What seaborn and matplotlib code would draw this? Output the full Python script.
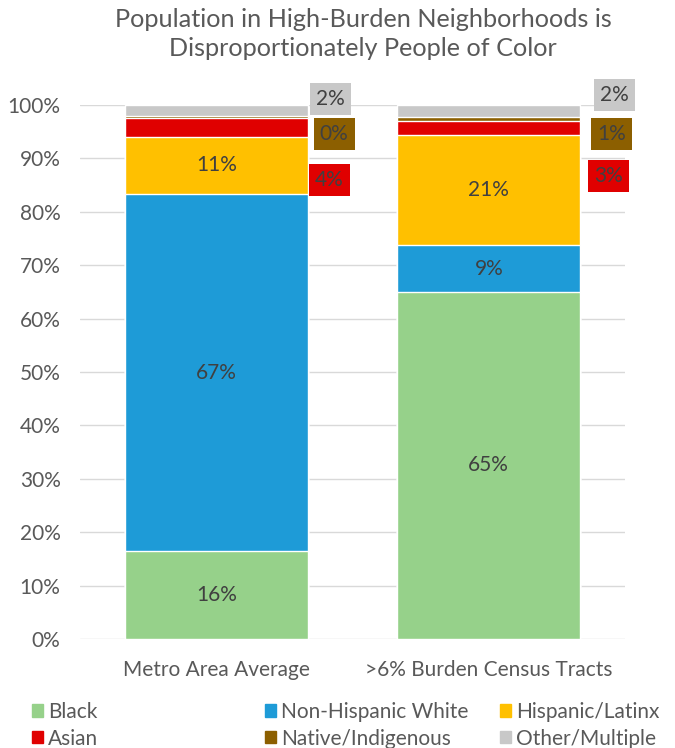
import numpy as np
import pandas as pd
import seaborn as sns
from matplotlib import pyplot as plt
from matplotlib.patches import Patch
from matplotlib.ticker import FuncFormatter

categories = ['Metro Area Average', '>6% Burden Census Tracts']
groups = ['Black', 'Non-Hispanic White', 'Hispanic/Latinx',
          'Asian', 'Native/Indigenous', 'Other/Multiple']
black = [16.4, 65.0]
white = [67.0, 8.7]
hispanic = [10.6, 20.7]
asian = [3.6, 2.6]
native = [0.3, 0.7]
other = [2.1, 2.3]

colors = ['#96D18A', '#1E9BD7', '#FFC000', '#E00000', '#8C5F00', '#C8C8C8']
text_c = '#404040'
grey_c = '#595959'
fs = 15

values = [black, white, hispanic, asian, native, other]
df = pd.DataFrame({'Category': np.repeat(categories, len(groups)),
                   'Group': groups * len(categories),
                   'Share': np.array(values).T.ravel()})
df['Cum'] = df.groupby('Category')['Share'].cumsum()
df['Bottom'] = df['Cum'] - df['Share']

sns.set_theme(style='white')
plt.rcParams['font.family'] = ['Lato', 'DejaVu Sans']

fig = plt.figure(figsize=(6.75, 7.48), dpi=100)
ax = fig.add_axes([80 / 675, 1 - 639 / 748, 545 / 675, 534 / 748])

# stacked bars: draw cumulative totals from the top segment down
for grp, col in reversed(list(zip(groups, colors))):
    sub = df[df['Group'] == grp]
    sns.barplot(data=sub, x='Category', y='Cum', order=categories,
                color=col, saturation=1, width=0.67, ax=ax, zorder=2)

ax.set_ylim(0, 100)
ax.set_xlim(-0.5, 1.5)
ax.set_yticks(range(0, 101, 10))
ax.yaxis.set_major_formatter(FuncFormatter(lambda v, p: f'{v:.0f}%'))
ax.yaxis.grid(True, color='#D9D9D9', linewidth=1, zorder=0)
ax.set_axisbelow(True)
for s in ax.spines.values():
    s.set_visible(False)
ax.set_xlabel('')
ax.set_ylabel('')
ax.tick_params(axis='y', length=0, pad=14, labelsize=fs, labelcolor=grey_c)
ax.tick_params(axis='x', length=0, pad=15, labelsize=fs, labelcolor=grey_c)

# labels inside the big segments
for _, r in df[df['Group'].isin(groups[:3])].iterrows():
    xi = categories.index(r['Category'])
    ax.text(xi, r['Bottom'] + r['Share'] / 2, f"{r['Share']:.0f}%",
            ha='center', va='center', fontsize=fs, color=text_c)

# boxed labels for the thin segments, placed to the right of each bar
label_pos = {
    'Other/Multiple': [(0.42, 101.1), (0.462, 101.9)],
    'Native/Indigenous': [(0.433, 94.6), (0.45, 94.6)],
    'Asian': [(0.415, 86.0), (0.44, 86.7)],
}
for grp, col in zip(groups[3:], colors[3:]):
    sub = df[df['Group'] == grp]
    for xi, (_, r) in enumerate(sub.iterrows()):
        px, py = label_pos[grp][xi]
        ax.text(xi + px, py, f"{round(r['Share'] + 1e-9):.0f}%",
                ha='center', va='center', fontsize=fs, color=text_c,
                clip_on=False,
                bbox=dict(boxstyle='square,pad=0.3', fc=col, ec='none'))

fig.text(363 / 675, 1 - 8 / 748,
         'Population in High-Burden Neighborhoods is\nDisproportionately People of Color',
         ha='center', va='top', fontsize=18.2, color=grey_c, linespacing=1.3)

# legend in three columns, like the original
col_x = [32 / 675, 265 / 675, 500 / 675]
for ci in range(3):
    idx = [ci, ci + 3]
    handles = [Patch(color=colors[i], label=groups[i]) for i in idx]
    leg = fig.legend(handles=handles, loc='upper left',
                     bbox_to_anchor=(col_x[ci], 1 - 702 / 748),
                     frameon=False, fontsize=fs, borderpad=0,
                     borderaxespad=0, handlelength=0.53, handleheight=0.53,
                     handletextpad=0.25, labelspacing=0.32)
    for t in leg.get_texts():
        t.set_color(grey_c)

fig.savefig('out.png', dpi=100)
